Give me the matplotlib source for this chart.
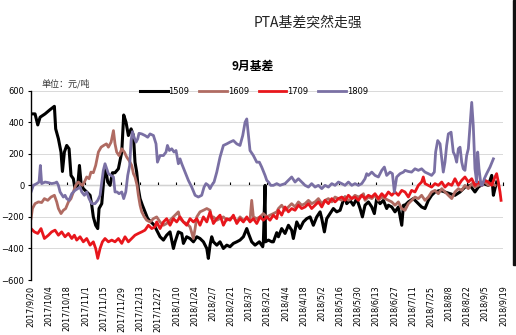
import datetime as dt
import matplotlib
matplotlib.use("Agg")
import matplotlib.pyplot as plt
from matplotlib.patches import Rectangle

plt.rcParams['font.family'] = ['DejaVu Sans', 'Noto Sans CJK SC']

# x = days after 2017/9/20, y = basis (yuan/ton)
s1509 = [(1.5, 453), (3.5, 453), (5.6, 383), (7.4, 432), (11.2, 453), (15.1, 480), (18.4, 501),
         (19.4, 358), (21.5, 295), (23.5, 211), (24.6, 88), (26.1, 211), (27.9, 253), (29.7, 232),
         (31.2, 63), (33.0, 42), (34.3, -21), (36.4, 0), (37.7, 126), (39.0, 11), (40.7, -21),
         (43.3, -42), (45.9, -63), (47.2, -126), (48.4, -200), (50.2, -253), (51.8, -274),
         (52.8, -147), (54.9, -116), (56.7, 63), (57.9, 105), (59.5, 21), (61.3, 0), (63.1, 80),
         (65.1, 80), (67.7, 105), (70.3, 211), (71.8, 446), (73.6, 400), (75.4, 316), (77.5, 358),
         (79.3, 316), (80.5, 147), (81.8, 84), (83.1, -21), (84.4, -84), (86.2, -126), (88.2, -168),
         (90.3, -211), (92.9, -232), (95.4, -253), (97.2, -284), (99.8, -326), (102.4, -347),
         (104.9, -316), (107.5, -295), (110.1, -400), (111.4, -358), (113.9, -295), (116.5, -305),
         (117.8, -368), (120.3, -326), (122.9, -337), (125.5, -358), (128.1, -326), (130.6, -337),
         (133.2, -358), (135.8, -400), (137.0, -463), (138.3, -379), (139.6, -326), (140.9, -358),
         (143.5, -379), (146.0, -358), (148.6, -400), (151.2, -379), (153.7, -389), (156.3, -368),
         (158.9, -358), (161.4, -347), (164.0, -326), (166.6, -274), (167.9, -305), (170.4, -358),
         (173.0, -379), (176.3, -358), (178.9, -389), (179.4, -358), (180.7, 0), (181.0, -358),
         (183.3, -347), (185.9, -358), (187.1, -358), (189.7, -300), (191.0, -326), (193.5, -274),
         (196.1, -305), (198.7, -253), (201.2, -284), (202.5, -337), (205.1, -232), (207.7, -274),
         (210.2, -232), (212.8, -211), (215.4, -200), (217.9, -253), (220.5, -200), (223.1, -168),
         (224.4, -211), (226.4, -295), (228.2, -211), (230.8, -179), (233.3, -147), (235.9, -168),
         (238.5, -158), (241.0, -95), (242.3, -74), (243.6, -116), (246.2, -95), (248.7, -126),
         (251.3, -84), (253.9, -147), (255.7, -200), (257.7, -126), (260.3, -105), (262.9, -137),
         (264.9, -179), (266.7, -84), (269.3, -116), (271.9, -95), (274.4, -147), (275.7, -126),
         (278.3, -137), (280.8, -168), (283.4, -137), (286.0, -253), (287.3, -126), (288.5, -126),
         (291.1, -105), (294.9, -84), (298.8, -116), (301.3, -137), (303.9, -147), (306.5, -95),
         (309.0, -63), (311.6, -42), (315.5, -32), (319.3, -42), (323.2, -53), (327.0, -63),
         (330.9, -42), (334.7, -11), (338.6, 0), (342.4, -42), (345.0, -11), (348.9, 11),
         (352.7, 0), (355.3, 63), (356.6, -63), (357.8, -21), (359.1, 21)]

s1609 = [(0.4, -211), (1.5, -147), (3.5, -116), (6.1, -105), (8.6, -109), (10.7, -84), (13.3, -95),
         (15.8, -74), (18.4, -63), (20.2, -105), (21.5, -147), (23.5, -179), (25.3, -158),
         (27.1, -147), (29.2, -105), (31.2, -84), (33.0, -42), (34.8, 0), (36.9, 21), (38.2, 11),
         (40.0, 0), (41.5, 21), (43.3, 53), (45.1, 42), (46.6, 84), (48.4, 80), (50.2, 126),
         (52.3, 211), (54.4, 242), (56.4, 253), (58.5, 263), (60.0, 242), (62.1, 274), (63.9, 347),
         (65.1, 263), (66.4, 211), (68.2, 189), (70.3, 232), (72.3, 211), (74.1, 179), (75.9, 158),
         (78.0, 126), (79.3, 74), (80.5, 53), (82.1, 0), (83.1, -63), (84.4, -126), (85.7, -168),
         (87.7, -200), (89.5, -221), (92.1, -232), (94.7, -211), (97.2, -200), (99.8, -232),
         (102.4, -253), (104.9, -242), (107.5, -221), (110.1, -200), (112.6, -179), (113.9, -168),
         (115.2, -211), (117.8, -232), (120.3, -242), (122.9, -263), (125.5, -337), (126.8, -274),
         (128.1, -200), (130.6, -168), (133.2, -158), (135.8, -147), (138.3, -158), (139.6, -211),
         (140.9, -200), (143.5, -221), (146.0, -211), (148.6, -200), (151.2, -221), (153.7, -211),
         (156.3, -200), (158.9, -232), (161.4, -200), (164.0, -221), (166.6, -211), (169.1, -221),
         (170.4, -95), (171.7, -200), (174.3, -211), (176.8, -200), (179.4, -179), (182.0, -200),
         (184.5, -189), (187.1, -179), (189.7, -168), (191.0, -147), (193.5, -126), (196.1, -158),
         (198.7, -137), (201.2, -116), (203.8, -137), (206.4, -105), (208.9, -126), (211.5, -116),
         (214.1, -95), (216.6, -116), (219.2, -105), (221.8, -84), (224.4, -116), (226.9, -95),
         (229.5, -84), (232.1, -105), (234.6, -74), (237.2, -84), (239.8, -95), (242.3, -74),
         (244.9, -95), (247.5, -84), (250.0, -63), (252.6, -74), (255.2, -63), (256.5, -53),
         (257.7, -95), (260.3, -74), (262.9, -84), (265.4, -63), (268.0, -95), (270.6, -74),
         (273.1, -84), (275.7, -95), (278.3, -105), (280.8, -126), (283.4, -105), (285.9, -147),
         (288.5, -158), (291.1, -116), (293.6, -95), (296.2, -74), (298.8, -84), (301.3, -63),
         (303.9, -95), (306.5, -74), (309.0, -42), (311.6, -32), (314.2, -53), (316.8, -21),
         (319.3, -42), (321.9, -63), (324.5, -84), (327.0, -42), (329.6, -21), (332.2, -32),
         (334.7, 0), (337.3, -21), (339.9, 11), (342.4, -11), (345.0, 0), (347.6, 11), (350.1, 21),
         (352.7, 0), (355.3, 11), (357.8, 0)]

s1709 = [(0.4, -274), (3.0, -295), (5.6, -305), (8.1, -274), (10.7, -337), (13.8, -316),
         (16.3, -295), (18.9, -284), (21.5, -316), (24.0, -295), (26.6, -326), (29.2, -305),
         (31.8, -337), (33.8, -316), (35.6, -347), (38.2, -326), (40.7, -358), (43.3, -337),
         (45.9, -379), (48.4, -358), (50.2, -400), (51.8, -463), (53.6, -400), (55.4, -358),
         (57.4, -337), (60.0, -358), (62.6, -347), (65.1, -358), (67.7, -337), (70.3, -368),
         (72.8, -326), (75.4, -358), (78.0, -337), (80.5, -316), (83.1, -305), (85.7, -295),
         (88.2, -284), (90.8, -253), (93.4, -274), (95.9, -263), (97.2, -232), (99.8, -274),
         (102.4, -232), (104.9, -211), (107.5, -253), (110.1, -211), (112.6, -232), (115.2, -200),
         (117.8, -232), (120.3, -253), (122.9, -211), (125.5, -232), (128.1, -211), (130.6, -253),
         (133.2, -200), (135.8, -232), (138.3, -168), (140.9, -242), (143.5, -211), (146.0, -189),
         (148.6, -253), (151.2, -211), (153.7, -221), (156.3, -189), (158.9, -242), (161.4, -211),
         (164.0, -232), (166.6, -200), (169.1, -232), (171.7, -211), (174.3, -242), (176.8, -200),
         (179.4, -221), (182.0, -200), (184.5, -221), (187.1, -189), (189.7, -211), (191.0, -158),
         (193.5, -189), (196.1, -137), (198.7, -168), (201.2, -147), (203.8, -158), (206.4, -126),
         (208.9, -147), (211.5, -137), (214.1, -116), (216.6, -147), (219.2, -126), (221.8, -105),
         (224.4, -137), (226.9, -95), (229.5, -116), (232.1, -84), (234.6, -105), (237.2, -84),
         (239.8, -74), (242.3, -95), (244.9, -63), (247.5, -84), (250.0, -74), (252.6, -95),
         (255.2, -63), (257.7, -84), (260.3, -63), (262.9, -74), (265.4, -53), (268.0, -84),
         (270.6, -53), (273.1, -74), (275.7, -42), (278.3, -63), (280.8, -42), (283.4, -63),
         (286.0, -32), (288.5, -42), (291.1, -74), (293.6, -32), (296.2, -42), (298.8, 0),
         (301.3, 21), (302.6, 53), (303.9, 11), (306.5, 0), (309.0, -11), (311.6, 11), (314.2, 0),
         (316.8, 21), (319.3, -11), (321.9, 11), (324.5, 0), (327.0, 42), (329.6, 0), (332.2, 32),
         (334.7, 53), (337.3, 21), (339.9, 42), (342.4, 0), (345.0, 21), (347.6, 0), (350.1, 32),
         (352.7, 21), (355.3, 0), (357.8, 53), (359.1, 74), (360.4, 21), (361.7, -42), (362.5, -95)]

s1809 = [(0.4, -42), (2.2, 0), (4.8, 11), (6.6, 21), (7.6, 126), (8.6, 11), (11.2, 21), (13.8, 17),
         (16.3, 11), (18.9, 15), (20.2, 21), (21.5, 0), (22.8, -42), (25.3, -74), (26.6, -63),
         (27.9, -84), (29.7, -95), (31.8, -53), (34.3, -32), (36.4, -21), (38.2, -11), (39.5, -42),
         (41.5, -63), (43.3, -42), (45.1, -84), (47.2, -116), (49.7, -116), (51.8, -95), (53.6, -63),
         (54.9, 21), (56.1, 95), (57.4, 137), (58.7, 105), (60.0, 74), (62.1, 63), (63.9, 53),
         (65.1, -42), (66.7, -42), (68.2, -53), (70.3, -42), (71.8, -84), (73.4, -42), (74.9, 63),
         (76.4, 126), (77.5, 284), (78.5, 340), (80.0, 300), (81.3, 274), (82.6, 295), (83.6, 330),
         (85.7, 326), (88.2, 316), (90.3, 305), (92.1, 326), (94.7, 316), (96.7, 263), (97.8, 147),
         (99.8, 189), (102.4, 189), (104.4, 211), (105.5, 253), (107.0, 221), (108.8, 232),
         (110.6, 211), (112.1, 221), (113.9, 137), (115.2, 168), (116.5, 137), (119.1, 84),
         (121.6, 32), (124.2, -11), (126.8, -63), (129.3, -74), (131.9, -63), (133.7, -11),
         (135.2, 11), (137.0, 0), (138.3, -21), (139.6, 0), (141.4, 21), (143.5, 84), (146.0, 179),
         (148.6, 253), (151.2, 263), (153.7, 274), (156.3, 284), (158.9, 263), (161.4, 253),
         (163.5, 316), (165.3, 400), (166.6, 421), (167.9, 316), (169.1, 221), (171.7, 189),
         (174.3, 147), (176.3, 147), (178.1, 116), (180.7, 63), (182.0, 32), (183.3, 21), (185.1, 0),
         (187.1, 0), (189.7, 11), (192.2, 0), (193.5, 4), (196.1, 11), (198.7, 32), (201.2, 53),
         (203.8, 21), (206.4, 42), (208.9, 21), (211.5, 0), (214.1, -11), (216.6, 11), (219.2, -11),
         (221.8, 0), (224.4, -21), (226.9, 0), (229.5, -11), (232.1, 11), (234.6, 0), (237.2, 21),
         (239.8, 11), (242.3, 0), (244.9, 21), (247.5, 0), (250.0, 11), (252.6, 0), (255.2, 11),
         (257.7, 42), (259.0, 74), (260.3, 63), (262.9, 84), (265.4, 63), (268.0, 53), (270.6, 95),
         (272.6, 116), (274.4, 63), (277.0, 84), (278.8, 74), (280.3, -42), (282.1, 53),
         (284.7, 74), (287.3, 84), (288.5, 95), (291.1, 88), (293.6, 84), (296.2, 105), (298.8, 95),
         (301.3, 105), (303.9, 84), (306.5, 74), (309.0, 63), (311.1, 84), (312.1, 211),
         (313.7, 284), (315.5, 263), (316.8, 168), (318.0, 84), (319.3, 147), (320.6, 253),
         (321.9, 326), (324.0, 337), (325.7, 211), (327.0, 189), (328.3, 147), (329.6, 232),
         (330.9, 242), (332.2, 147), (333.4, 105), (334.7, 95), (336.0, 189), (337.3, 232),
         (338.6, 379), (339.9, 526), (341.1, 379), (342.4, 105), (343.7, 21), (344.5, 211),
         (345.5, 105), (347.1, 0), (348.1, 0), (349.6, 42), (351.4, 74), (354.0, 116), (356.6, 168)]

names = ["1509", "1609", "1709", "1809"]
colors = ["#000000", "#b06b62", "#e8161c", "#7a70a4"]
widths = [2.2, 2.0, 2.0, 2.0]
start = dt.date(2017, 9, 20)
tick_days = list(range(0, 365, 14))
tick_labels = []
for d in tick_days:
    day = start + dt.timedelta(days=d)
    tick_labels.append(f"{day.year}/{day.month}/{day.day}")

fig = plt.figure(figsize=(5.16, 3.35), dpi=100)
ax = fig.add_axes([30.5 / 516, 1 - 280 / 335, (503 - 30.5) / 516, (280 - 90.7) / 335])

for name, series, col, w in zip(names, [s1509, s1609, s1709, s1809], colors, widths):
    xs, ys = zip(*series)
    ax.plot(xs, ys, color=col, lw=w, label=name, solid_joinstyle="round")

ax.set_xlim(0, 364)
ax.set_ylim(-600, 600)
ax.set_yticks(range(-600, 601, 200))
ax.tick_params(axis="y", labelsize=6, length=2.5, width=0.8, pad=2)
ax.grid(axis="y", color="#d9d9d9", lw=0.7)
ax.set_axisbelow(True)
for s in ["top", "right", "bottom"]:
    ax.spines[s].set_visible(False)
ax.spines["left"].set_linewidth(1.0)

ax.set_xticks(tick_days)
ax.set_xticklabels(tick_labels, rotation=90, fontsize=5.8)
ax.tick_params(axis="x", length=0, pad=4)

# category axis crossing at zero
zero_ax = ax.secondary_xaxis(0.5)
zero_ax.set_xticks(tick_days)
zero_ax.set_xticklabels([])
zero_ax.tick_params(length=2.5, width=0.8, direction="out")
zero_ax.spines["bottom"].set_linewidth(1.0)

ax.legend(loc="center", bbox_to_anchor=(254 / 516, 1 - 91 / 335), bbox_transform=fig.transFigure,
          ncol=4, frameon=False, fontsize=6, handlelength=3.3, handletextpad=0.1,
          columnspacing=1.2, borderpad=0)

fig.text(308 / 516, 1 - 22 / 335, "PTA基差突然走强", ha="center", va="center",
         fontsize=10, color="#222222", family=["Noto Sans CJK SC", "DejaVu Sans"])
fig.text(253 / 516, 1 - 66 / 335, "9月基差", ha="center", va="center", fontsize=8.5,
         fontweight="bold", family=["Noto Sans CJK SC", "DejaVu Sans"])
fig.text(42 / 516, 1 - 84 / 335, "单位：元/吨", ha="left", va="center", fontsize=6.5,
         color="#333333", family=["Noto Sans CJK SC", "DejaVu Sans"])

fig.patches.append(Rectangle((512.5 / 516, 1 - 265 / 335), 4 / 516, 265 / 335,
                             transform=fig.transFigure, color="#111111", zorder=5))

fig.savefig("out.png", dpi=100)
